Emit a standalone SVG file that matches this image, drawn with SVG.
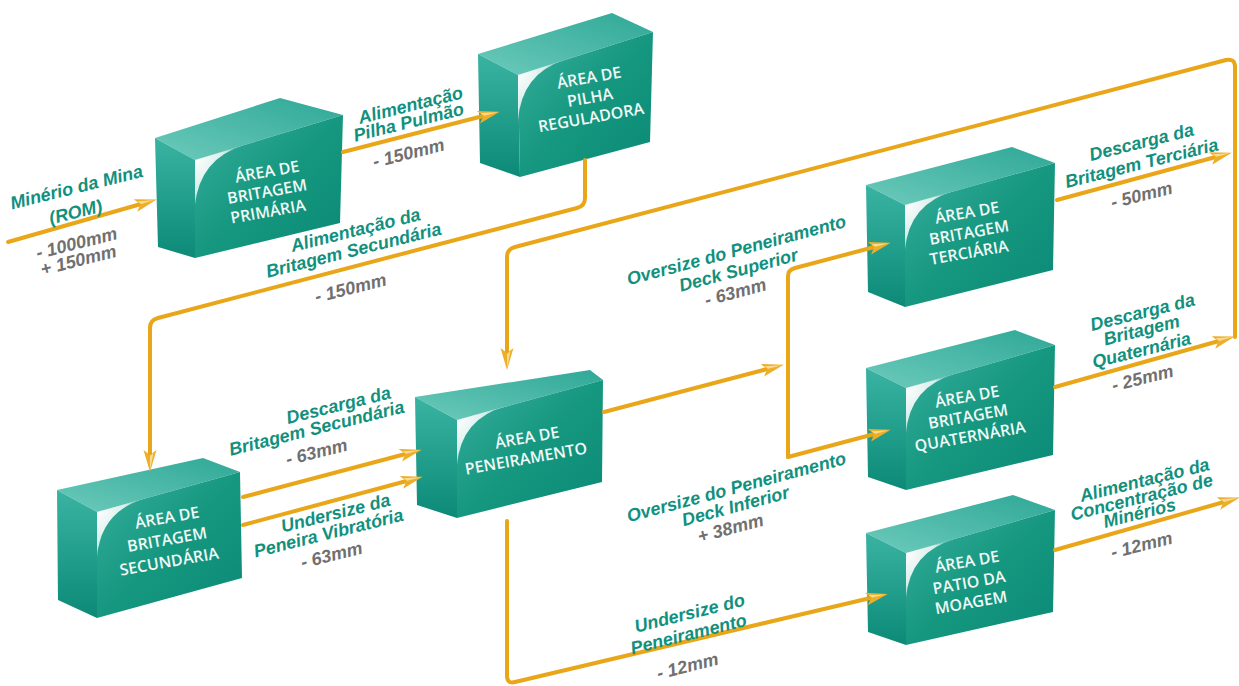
<svg xmlns="http://www.w3.org/2000/svg" width="1239" height="686" viewBox="0 0 1239 686">
<defs>
<linearGradient id="gFront" x1="0" y1="0" x2="1" y2="1">
<stop offset="0" stop-color="#38b09f"/><stop offset="0.5" stop-color="#16977f"/><stop offset="1" stop-color="#0a8a76"/>
</linearGradient>
<linearGradient id="gTop" x1="0" y1="1" x2="1" y2="0">
<stop offset="0" stop-color="#6ccabb"/><stop offset="1" stop-color="#2fa897"/>
</linearGradient>
<linearGradient id="gLeft" x1="0" y1="0" x2="0" y2="1">
<stop offset="0" stop-color="#3ab3a2"/><stop offset="1" stop-color="#0c8a77"/>
</linearGradient>
<radialGradient id="gHl" cx="0" cy="0.2" r="1">
<stop offset="0" stop-color="#ffffff"/><stop offset="0.6" stop-color="#ffffff" stop-opacity="0.8"/><stop offset="1" stop-color="#ffffff" stop-opacity="0"/>
</radialGradient>
<marker id="arr" markerUnits="userSpaceOnUse" viewBox="-14 -8 24 16" refX="0" refY="0" markerWidth="24" markerHeight="16" orient="auto">
<path d="M9,0 L-13,-6.5 L-8,0 L-13,6.5 Z" fill="#eeae28"/>
<path d="M7,0 L-10,-3.5 L-7,0 Z" fill="#f9dc94"/>
</marker>
<style>
.ff{fill:url(#gFront)}
.ft{fill:url(#gTop)}
.fl{fill:url(#gLeft)}
.hl{fill:url(#gHl)}
.bt{font-family:"Open Sans","Liberation Sans",sans-serif;font-weight:600;font-size:16px;fill:#f0f9f7;text-anchor:middle}
.lt{font-family:"Liberation Sans",Arial,sans-serif;font-weight:bold;font-style:italic;font-size:18px;fill:#12907e;text-anchor:middle}
.gt{font-family:"Liberation Sans",Arial,sans-serif;font-weight:bold;font-style:italic;font-size:18px;fill:#707070;text-anchor:middle}
.c{fill:none;stroke:#e9a619;stroke-width:4;stroke-linejoin:round;stroke-linecap:round}
.ca{marker-end:url(#arr)}
</style>
</defs>
<rect width="1239" height="686" fill="#ffffff"/>

<g id="box-primaria">
<polygon class="ft" points="155,138 280,98 343,115 195,160"/>
<polygon class="fl" points="155,138 195,160 195,258 158,247"/>
<polygon class="ff" points="195,160 343,115 340,223 195,258"/>
<path class="hl" d="M195,205 L195,160 L245,145 Q200,158 195,205 Z"/>
<text class="bt" transform="translate(268,177) rotate(-10)">ÁREA DE</text>
<text class="bt" transform="translate(268,197) rotate(-10)">BRITAGEM</text>
<text class="bt" transform="translate(269,217) rotate(-10)">PRIMÁRIA</text>
</g>

<g id="box-pilha">
<polygon class="ft" points="478,54 612,13 653,32 518,75"/>
<polygon class="fl" points="478,54 518,75 520,177 480,163"/>
<polygon class="ff" points="518,75 653,32 650,142 520,177"/>
<path class="hl" d="M518,120 L518,75 L565,60 Q522,73 518,120 Z"/>
<text class="bt" transform="translate(590,83) rotate(-10)">ÁREA DE</text>
<text class="bt" transform="translate(591,103) rotate(-10)">PILHA</text>
<text class="bt" transform="translate(592,123) rotate(-10)">REGULADORA</text>
</g>

<g id="box-terciaria">
<polygon class="ft" points="866,185 1012,147 1055,163 905,205"/>
<polygon class="fl" points="866,185 905,205 905,307 868,292"/>
<polygon class="ff" points="905,205 1055,163 1053,270 905,307"/>
<path class="hl" d="M905,250 L905,205 L955,191 Q909,203 905,250 Z"/>
<text class="bt" transform="translate(968,218) rotate(-10)">ÁREA DE</text>
<text class="bt" transform="translate(970,238) rotate(-10)">BRITAGEM</text>
<text class="bt" transform="translate(970,258) rotate(-10)">TERCIÁRIA</text>
</g>

<g id="box-quaternaria">
<polygon class="ft" points="866,368 1015,330 1055,345 906,388"/>
<polygon class="fl" points="866,368 906,388 906,490 868,477"/>
<polygon class="ff" points="906,388 1055,345 1053,455 906,490"/>
<path class="hl" d="M906,433 L906,388 L956,374 Q910,386 906,433 Z"/>
<text class="bt" transform="translate(968,402) rotate(-10)">ÁREA DE</text>
<text class="bt" transform="translate(969,422) rotate(-10)">BRITAGEM</text>
<text class="bt" transform="translate(971,442) rotate(-10)">QUATERNÁRIA</text>
</g>

<g id="box-patio">
<polygon class="ft" points="866,533 1013,495 1055,510 906,553"/>
<polygon class="fl" points="866,533 906,553 906,645 868,632"/>
<polygon class="ff" points="906,553 1055,510 1053,612 906,645"/>
<path class="hl" d="M906,598 L906,553 L956,539 Q910,551 906,598 Z"/>
<text class="bt" transform="translate(968,567) rotate(-10)">ÁREA DE</text>
<text class="bt" transform="translate(970,588) rotate(-10)">PATIO DA</text>
<text class="bt" transform="translate(972,608) rotate(-10)">MOAGEM</text>
</g>

<g id="box-peneiramento">
<polygon class="ft" points="415,397 590,370 603,380 457,420"/>
<polygon class="fl" points="415,397 457,420 457,518 417,505"/>
<polygon class="ff" points="457,420 603,380 602,482 457,518"/>
<path class="hl" d="M457,465 L457,420 L507,406 Q461,418 457,465 Z"/>
<text class="bt" transform="translate(528,443) rotate(-10)">ÁREA DE</text>
<text class="bt" transform="translate(527,464) rotate(-10)">PENEIRAMENTO</text>
</g>

<g id="box-secundaria">
<polygon class="ft" points="57,490 203,458 240,472 97,512"/>
<polygon class="fl" points="57,490 97,512 97,618 58,600"/>
<polygon class="ff" points="97,512 240,472 242,578 97,618"/>
<path class="hl" d="M97,557 L97,512 L147,498 Q101,510 97,557 Z"/>
<text class="bt" transform="translate(168,523) rotate(-10)">ÁREA DE</text>
<text class="bt" transform="translate(168,545) rotate(-10)">BRITAGEM</text>
<text class="bt" transform="translate(170,567) rotate(-10)">SECUNDÁRIA</text>
</g>

<g id="connectors">
<path class="c ca" d="M8,242 L148,202"/>
<path class="c ca" d="M343,152 L491,114"/>
<path class="c ca" d="M585,160 L585,198 Q585,206 577,208 L158,318 Q150,320 150,328 L150,463"/>
<path class="c ca" d="M1235,337 L1235,67 Q1235,58 1226,60 L515,247 Q507,249 507,257 L507,361"/>
<path class="c ca" d="M1057,200 L1223,155"/>
<path class="c ca" d="M1055,387 L1226,339"/>
<path class="c ca" d="M1055,550 L1231,500"/>
<path class="c ca" d="M243,497 L413,452"/>
<path class="c ca" d="M243,525 L414,479"/>
<path class="c ca" d="M604,412 L775,367"/>
<path class="c ca" d="M788,457 L788,276 Q788,270 795,268 L882,245"/>
<path class="c ca" d="M788,457 L882,432"/>
<path class="c ca" d="M507,521 L507,676 Q507,684 515,682 L879,596"/>
</g>

<g id="labels">
<text class="lt" transform="translate(78,193) rotate(-14)">Minério da Mina</text>
<text class="lt" transform="translate(77,218) rotate(-14)">(ROM)</text>
<text class="gt" transform="translate(78,249) rotate(-14)">- 1000mm</text>
<text class="gt" transform="translate(80,266) rotate(-14)">+ 150mm</text>

<text class="lt" transform="translate(412,111) rotate(-14)">Alimentação</text>
<text class="lt" transform="translate(410,128) rotate(-14)">Pilha Pulmão</text>
<text class="gt" transform="translate(410,159) rotate(-14)">- 150mm</text>

<text class="lt" transform="translate(357,236) rotate(-14)">Alimentação da</text>
<text class="lt" transform="translate(355,256) rotate(-14)">Britagem Secundária</text>
<text class="gt" transform="translate(352,294) rotate(-14)">- 150mm</text>

<text class="lt" transform="translate(340,411) rotate(-14)">Descarga da</text>
<text class="lt" transform="translate(318,434) rotate(-14)">Britagem Secundária</text>
<text class="gt" transform="translate(318,458) rotate(-14)">- 63mm</text>

<text class="lt" transform="translate(337,519) rotate(-14)">Undersize da</text>
<text class="lt" transform="translate(330,539) rotate(-14)">Peneira Vibratória</text>
<text class="gt" transform="translate(333,561) rotate(-14)">- 63mm</text>

<text class="lt" transform="translate(738,256) rotate(-15)">Oversize do Peneiramento</text>
<text class="lt" transform="translate(740,276) rotate(-15)">Deck Superior</text>
<text class="gt" transform="translate(737,298) rotate(-15)">- 63mm</text>

<text class="lt" transform="translate(738,493) rotate(-15)">Oversize do Peneiramento</text>
<text class="lt" transform="translate(737,512) rotate(-15)">Deck Inferior</text>
<text class="gt" transform="translate(732,534) rotate(-15)">+ 38mm</text>

<text class="lt" transform="translate(691,619) rotate(-14)">Undersize do</text>
<text class="lt" transform="translate(690,640) rotate(-14)">Peneiramento</text>
<text class="gt" transform="translate(689,672) rotate(-14)">- 12mm</text>

<text class="lt" transform="translate(1143,148) rotate(-14)">Descarga da</text>
<text class="lt" transform="translate(1143,169) rotate(-14)">Britagem Terciária</text>
<text class="gt" transform="translate(1143,201) rotate(-14)">- 50mm</text>

<text class="lt" transform="translate(1144,318) rotate(-14)">Descarga da</text>
<text class="lt" transform="translate(1143,336) rotate(-14)">Britagem</text>
<text class="lt" transform="translate(1143,356) rotate(-14)">Quaternária</text>
<text class="gt" transform="translate(1144,384) rotate(-14)">- 25mm</text>

<text class="lt" transform="translate(1146,486) rotate(-14)">Alimentação da</text>
<text class="lt" transform="translate(1143,503) rotate(-14)">Concentração de</text>
<text class="lt" transform="translate(1141,519) rotate(-14)">Minérios</text>
<text class="gt" transform="translate(1143,551) rotate(-14)">- 12mm</text>
</g>
</svg>
